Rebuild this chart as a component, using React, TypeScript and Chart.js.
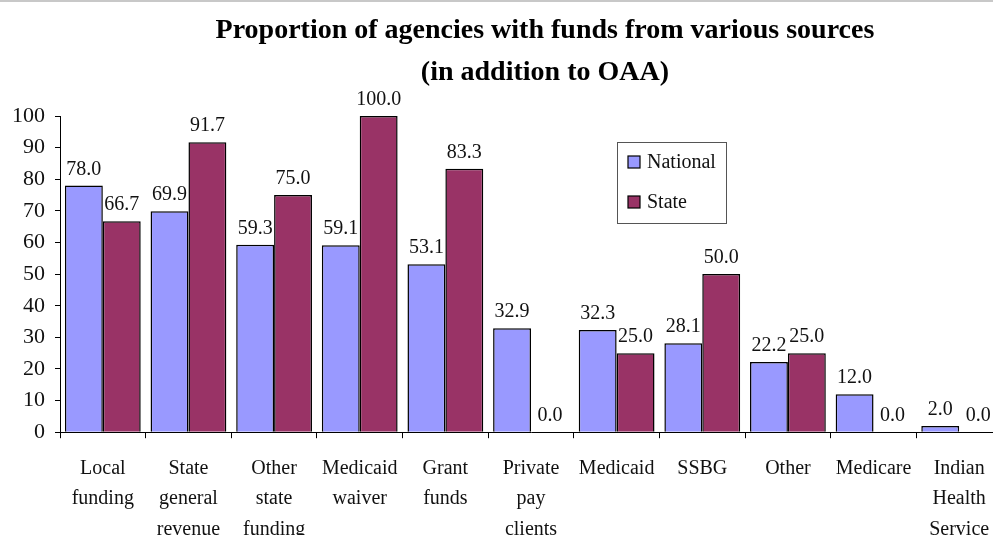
import React, { useEffect, useRef } from "react";
import { Chart, registerables } from "chart.js";

Chart.register(...registerables);

const categories: (string | string[])[] = [
  ["Local", "funding"],
  ["State", "general", "revenue"],
  ["Other", "state", "funding"],
  ["Medicaid", "waiver"],
  ["Grant", "funds"],
  ["Private", "pay", "clients"],
  "Medicaid",
  "SSBG",
  "Other",
  "Medicare",
  ["Indian", "Health", "Service"],
];

const nationalValues = [78.0, 69.9, 59.3, 59.1, 53.1, 32.9, 32.3, 28.1, 22.2, 12.0, 2.0];
const stateValues = [66.7, 91.7, 75.0, 100.0, 83.3, 0.0, 25.0, 50.0, 25.0, 0.0, 0.0];
const yTicks = [0, 10, 20, 30, 40, 50, 60, 70, 80, 90, 100];
const titleLines = ["Proportion of agencies with funds from various sources", "(in addition to OAA)"];
const seriesNames = ["National", "State"];
const seriesColors = ["#9999FF", "#993366"];

const FONT = "'Liberation Serif', 'Times New Roman', serif";

const decorPlugin = {
  id: "decor",
  beforeDraw(chart: any) {
    const ctx = chart.ctx;
    ctx.save();
    ctx.fillStyle = "#ffffff";
    ctx.fillRect(0, 0, chart.width, chart.height);
    ctx.strokeStyle = "#c8c8c8";
    ctx.lineWidth = 2;
    ctx.beginPath();
    ctx.moveTo(0, 1);
    ctx.lineTo(chart.width, 1);
    ctx.stroke();
    ctx.restore();
  },
  afterDraw(chart: any) {
    const ctx = chart.ctx;
    const area = chart.chartArea;
    ctx.save();
    // title
    ctx.fillStyle = "#000";
    ctx.font = `bold 28px ${FONT}`;
    ctx.textAlign = "center";
    ctx.textBaseline = "middle";
    const cx = area.left + area.width * 0.5148;
    titleLines.forEach((t, i) => {
      ctx.fillText(t, cx, 31 + i * 42);
    });
    // data labels
    ctx.font = `20px ${FONT}`;
    ctx.fillStyle = "#111";
    ctx.textAlign = "center";
    ctx.textBaseline = "alphabetic";
    chart.data.datasets.forEach((ds: any, di: number) => {
      const meta = chart.getDatasetMeta(di);
      meta.data.forEach((el: any, i: number) => {
        const v = ds.data[i];
        ctx.fillText(v.toFixed(1), el.x, el.y - 11);
      });
    });
    // legend
    const lx = area.left + 557;
    const ly = area.top + 26;
    const lw = 109;
    const lh = 81;
    ctx.fillStyle = "#fff";
    ctx.fillRect(lx, ly, lw, lh);
    ctx.strokeStyle = "#555";
    ctx.lineWidth = 1;
    ctx.strokeRect(lx + 0.5, ly + 0.5, lw, lh);
    ctx.textAlign = "left";
    ctx.textBaseline = "middle";
    seriesNames.forEach((name, i) => {
      const y = ly + 20 + i * 40;
      ctx.fillStyle = seriesColors[i];
      ctx.fillRect(lx + 11, y - 6, 12, 12);
      ctx.strokeStyle = "#000";
      ctx.lineWidth = 1.2;
      ctx.strokeRect(lx + 11, y - 6, 12, 12);
      ctx.fillStyle = "#111";
      ctx.fillText(name, lx + 30, y + 1);
    });
    ctx.restore();
  },
};

export default function App() {
  const ref = useRef<HTMLCanvasElement | null>(null);
  useEffect(() => {
    if (!ref.current) return;
    const chart = new Chart(ref.current, {
      type: "bar",
      data: {
        labels: categories as any,
        datasets: [
          {
            label: seriesNames[0],
            data: nationalValues,
            backgroundColor: seriesColors[0],
            borderColor: "#000",
            borderWidth: 1.5,
            barPercentage: 1.0,
            categoryPercentage: 0.885,
          },
          {
            label: seriesNames[1],
            data: stateValues,
            backgroundColor: seriesColors[1],
            borderColor: "#000",
            borderWidth: 1.5,
            barPercentage: 1.0,
            categoryPercentage: 0.885,
          },
        ],
      },
      options: {
        responsive: false,
        animation: false,
        layout: { padding: { top: 116, left: 2, right: 4, bottom: 0 } },
        plugins: {
          legend: { display: false },
          title: { display: false },
          tooltip: { enabled: false },
        },
        scales: {
          x: {
            grid: {
              display: true,
              drawOnChartArea: false,
              drawTicks: true,
              tickLength: 6,
              color: "#000",
              offset: true,
            },
            border: { display: true, color: "#000", width: 1 },
            ticks: {
              color: "#111",
              font: { family: FONT, size: 20, lineHeight: 1.53 },
              padding: 15,
              maxRotation: 0,
              autoSkip: false,
            },
          },
          y: {
            min: 0,
            max: 100,
            afterBuildTicks: (axis: any) => {
              axis.ticks = yTicks.map((v) => ({ value: v }));
            },
            grid: {
              display: true,
              drawOnChartArea: false,
              drawTicks: true,
              tickLength: 5,
              color: "#000",
            },
            border: { display: true, color: "#000", width: 1 },
            ticks: {
              color: "#111",
              font: { family: FONT, size: 22 },
              padding: 10,
            },
          },
        },
      },
      plugins: [decorPlugin],
    });
    return () => chart.destroy();
  }, []);
  return (
    <div style={{ position: "fixed", left: 0, top: 0, width: 1006, height: 560, background: "#fff" }}>
      <canvas ref={ref} width={1006} height={560} />
    </div>
  );
}
